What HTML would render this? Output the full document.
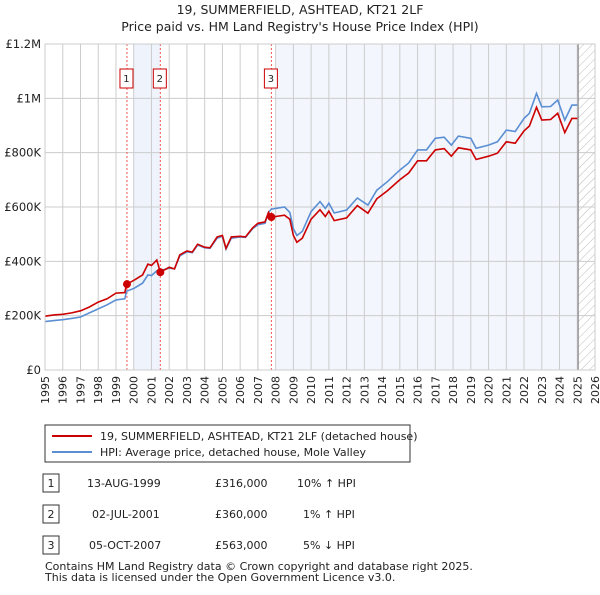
<!DOCTYPE html>
<html><head><meta charset="utf-8"><style>
body{margin:0;background:#fff;font-family:"Liberation Sans","DejaVu Sans",sans-serif;}
svg text{font-family:"DejaVu Sans","Liberation Sans",sans-serif;}
</style></head><body>
<svg id="c" width="600" height="590" viewBox="0 0 600 590" xmlns="http://www.w3.org/2000/svg">
<defs><pattern id="h" width="6" height="6" patternUnits="userSpaceOnUse" patternTransform="rotate(45)"><line x1="0" y1="0" x2="0" y2="6" stroke="#bbb" stroke-width="1"/></pattern></defs>
<text x="300" y="14" text-anchor="middle" font-size="12.5" fill="#222">19, SUMMERFIELD, ASHTEAD, KT21 2LF</text>
<text x="300" y="31" text-anchor="middle" font-size="12.5" fill="#222">Price paid vs. HM Land Registry's House Price Index (HPI)</text>
<g id="plot"></g>
<rect x="45" y="425" width="365" height="37" fill="#fff" stroke="#333"/>
<line x1="52" y1="436" x2="92" y2="436" stroke="#cc0000" stroke-width="2"/>
<text x="100" y="440" font-size="11" fill="#222">19, SUMMERFIELD, ASHTEAD, KT21 2LF (detached house)</text>
<line x1="52" y1="452" x2="92" y2="452" stroke="#5b8fd4" stroke-width="2"/>
<text x="100" y="456" font-size="11" fill="#222">HPI: Average price, detached house, Mole Valley</text>
<g font-size="11" fill="#222">
<rect x="43" y="474" width="16" height="18" fill="#fff" stroke="#333"/><text x="51" y="487" text-anchor="middle">1</text>
<text x="87" y="487">13-AUG-1999</text><text x="215" y="487">£316,000</text><text x="297" y="487">10% ↑ HPI</text>
<rect x="43" y="505" width="16" height="18" fill="#fff" stroke="#333"/><text x="51" y="518" text-anchor="middle">2</text>
<text x="92" y="518">02-JUL-2001</text><text x="215" y="518">£360,000</text><text x="303" y="518">1% ↑ HPI</text>
<rect x="43" y="536" width="16" height="18" fill="#fff" stroke="#333"/><text x="51" y="549" text-anchor="middle">3</text>
<text x="89" y="549">05-OCT-2007</text><text x="215" y="549">£563,000</text><text x="303" y="549">5% ↓ HPI</text>
<text x="45" y="570">Contains HM Land Registry data © Crown copyright and database right 2025.</text>
<text x="45" y="581">This data is licensed under the Open Government Licence v3.0.</text>
</g>
</svg>
<script>
const years=[1995,1995.5,1996,1996.5,1997,1997.5,1998,1998.5,1999,1999.5,1999.6,2000,2000.5,2000.8,2001,2001.3,2001.5,2002,2002.3,2002.6,2003,2003.3,2003.6,2004,2004.3,2004.7,2005,2005.2,2005.5,2006,2006.3,2006.7,2007,2007.4,2007.6,2007.75,2008,2008.5,2008.8,2009,2009.2,2009.5,2010,2010.5,2010.8,2011,2011.3,2012,2012.6,2013.2,2013.7,2014.3,2015,2015.5,2016,2016.5,2017,2017.5,2017.9,2018.3,2019,2019.3,2020,2020.5,2021,2021.5,2022,2022.3,2022.7,2023,2023.5,2023.9,2024.3,2024.7,2025];
const hpi=[178,182,185,190,195,210,225,240,258,262,290,300,320,350,348,365,365,375,372,420,435,432,460,450,448,485,492,445,485,490,488,520,535,540,580,592,595,600,580,520,495,510,583,620,595,614,578,589,633,607,662,693,736,762,810,810,853,857,828,861,853,816,828,840,883,878,926,945,1018,969,970,994,920,975,975];
const price=[198,203,205,210,218,232,250,262,283,285,316,330,350,390,385,405,360,378,372,424,438,434,463,452,450,490,495,448,490,492,490,523,540,545,580,563,565,570,555,495,470,485,555,590,565,585,550,560,605,577,630,660,700,725,770,770,810,815,787,818,810,775,787,798,840,835,880,898,967,920,922,945,874,926,926];
const saleYears=[1999.62,2001.5,2007.76];
const salePrices=[316,360,563];
const saleLabels=["1","2","3"];
const yTicks=[0,200,400,600,800,1000,1200];
const yTickLabels=["£0","£200K","£400K","£600K","£800K","£1M","£1.2M"];
const L=45,R=595,T=44,B=370,Y0=1995,Y1=2026;
const X=y=>L+(y-Y0)*(R-L)/(Y1-Y0);
const Yv=v=>B-v*(B-T)/1200;
const NS="http://www.w3.org/2000/svg";
const g=document.getElementById('plot');
function mk(t,a){const e=document.createElementNS(NS,t);for(const k in a)e.setAttribute(k,a[k]);g.appendChild(e);return e;}
let e;
e=mk('rect',{x:X(2000),y:T,width:X(2001.5)-X(2000),height:B-T,fill:'#eef3fc'});


e=mk('rect',{x:X(2008),y:T,width:X(2025.05)-X(2008),height:B-T,fill:'#f3f6fd'});


e=mk('rect',{x:X(2025.05),y:T,width:R-X(2025.05),height:B-T,fill:'url(#h)'});


for(let yr=Y0;yr<=Y1;yr++){
 e=mk('line',{x1:X(yr),x2:X(yr),y1:T,y2:B,stroke:'#ccc','stroke-width':1});
 
 
 e=mk('text',{x:0,y:0,transform:`translate(${X(yr)+4},${B+6}) rotate(-90)`,'text-anchor':'end','font-size':11,fill:'#222'});
 e.textContent=yr;
 
 
}
yTicks.forEach((v,i)=>{
 e=mk('line',{x1:L,x2:R,y1:Yv(v),y2:Yv(v),stroke:'#ccc','stroke-width':1});
 
 
 e=mk('text',{x:L-4,y:Yv(v)+4,'text-anchor':'end','font-size':11.5,fill:'#222'});
 e.textContent=yTickLabels[i];
 
 
});
e=mk('line',{x1:X(2025.05),x2:X(2025.05),y1:T,y2:B,stroke:'#888','stroke-width':1.2});


saleYears.forEach((s,i)=>{
 e=mk('line',{x1:X(s),x2:X(s),y1:T,y2:B,stroke:'#e55','stroke-width':1,'stroke-dasharray':'2,2'});
 
 
 e=mk('rect',{x:X(s)-7,y:69,width:13,height:19,fill:'#fff',stroke:'#cc0000'});
 
 
 e=mk('text',{x:X(s)-0.5,y:82,'text-anchor':'middle','font-size':10,fill:'#222'});
 e.textContent=saleLabels[i];
 
 
});
const pts=a=>years.map((y,i)=>X(y).toFixed(1)+','+Yv(a[i]).toFixed(1)).join(' ');
e=mk('polyline',{points:pts(hpi),fill:'none',stroke:'#5b8fd4','stroke-width':1.6});


e=mk('polyline',{points:pts(price),fill:'none',stroke:'#cc0000','stroke-width':1.6});


saleYears.forEach((s,i)=>{
 e=mk('circle',{cx:X(s),cy:Yv(salePrices[i]),r:4,fill:'#cc0000'});
 
 
});
e=mk('rect',{x:L,y:T,width:R-L,height:B-T,fill:'none',stroke:'#ccc'});


</script>
</body></html>
